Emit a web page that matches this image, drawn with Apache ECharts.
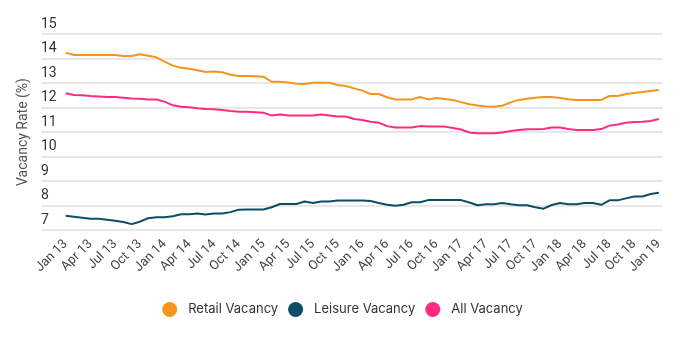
<!DOCTYPE html>
<html>
<head>
<meta charset="utf-8">
<script src="https://cdn.jsdelivr.net/npm/echarts@6/dist/echarts.min.js"></script>
<style>html,body{margin:0;padding:0;background:#fff}#c{width:685px;height:340px}</style>
</head>
<body>
<div id="c"></div>
<script>
const months = (function(){
  const m = ['Jan','Feb','Mar','Apr','May','Jun','Jul','Aug','Sep','Oct','Nov','Dec'];
  const out = [];
  for (let y = 13; y <= 19; y++) for (let i = 0; i < 12; i++) { if (y === 19 && i > 0) break; out.push(m[i] + ' ' + y); }
  return out;
})();
const tickLabels = months.filter((d, i) => i % 3 === 0);
const seriesNames = ['Retail Vacancy', 'Leisure Vacancy', 'All Vacancy'];
const retail = [14.24,14.14,14.14,14.14,14.14,14.14,14.14,14.10,14.10,14.17,14.11,14.05,13.87,13.71,13.62,13.58,13.52,13.45,13.47,13.44,13.34,13.29,13.29,13.28,13.26,13.05,13.05,13.02,12.97,12.96,13.01,13.01,13.01,12.92,12.88,12.78,12.69,12.55,12.55,12.42,12.33,12.33,12.33,12.43,12.33,12.39,12.35,12.31,12.22,12.13,12.08,12.04,12.03,12.07,12.21,12.31,12.36,12.40,12.43,12.43,12.39,12.34,12.31,12.31,12.31,12.31,12.47,12.47,12.55,12.59,12.63,12.67,12.71];
const leisure = [7.58,7.54,7.50,7.46,7.46,7.42,7.38,7.33,7.24,7.34,7.48,7.52,7.52,7.56,7.64,7.64,7.67,7.63,7.67,7.67,7.73,7.83,7.84,7.84,7.84,7.93,8.06,8.06,8.06,8.16,8.10,8.16,8.16,8.20,8.20,8.20,8.20,8.18,8.10,8.03,7.99,8.03,8.13,8.13,8.22,8.22,8.22,8.22,8.22,8.12,8.01,8.05,8.05,8.10,8.05,8.01,8.01,7.93,7.87,8.02,8.10,8.05,8.05,8.10,8.10,8.03,8.21,8.21,8.29,8.37,8.37,8.47,8.52];
const allVac = [12.58,12.51,12.50,12.47,12.45,12.43,12.43,12.40,12.37,12.36,12.33,12.33,12.24,12.09,12.03,12.01,11.97,11.94,11.93,11.90,11.86,11.83,11.83,11.81,11.79,11.67,11.71,11.67,11.67,11.67,11.67,11.71,11.67,11.63,11.63,11.53,11.49,11.42,11.38,11.24,11.18,11.18,11.18,11.24,11.22,11.22,11.22,11.16,11.10,10.98,10.95,10.95,10.95,10.98,11.04,11.08,11.11,11.11,11.12,11.18,11.18,11.12,11.08,11.08,11.08,11.12,11.26,11.31,11.38,11.41,11.42,11.45,11.53];
const colors = ['#F7941D', '#0C4E66', '#FF2A82'];

const toPairs = arr => arr.map((v, i) => [i, v]);
const chart = echarts.init(document.getElementById('c'), null, {renderer: 'canvas'});
chart.setOption({
  animation: false,
  textStyle: {fontFamily: 'Roboto'},
  grid: {left: 41, right: 22, top: 34, bottom: 110, containLabel: false},
  legend: {
    bottom: 18, left: 'center', icon: 'circle', itemWidth: 15, itemHeight: 15, itemGap: 10,
    textStyle: {fontSize: 13, color: '#333', fontFamily: 'Inter', padding: [0, 0, 0, 6]},
    data: seriesNames
  },
  xAxis: {
    type: 'value', min: -3, max: 72.5, interval: 3,
    axisLine: {show: false}, axisTick: {show: false}, splitLine: {show: false},
    axisLabel: {
      rotate: 45, fontSize: 13, color: '#444', margin: 12, showMaxLabel: false, showMinLabel: false,
      formatter: v => (v >= 0 && v % 3 === 0 && months[v]) ? months[v] : ''
    }
  },
  yAxis: {
    type: 'value', min: 7, max: 15, interval: 1,
    name: 'Vacancy Rate (%)', nameLocation: 'middle', nameGap: 8,
    nameTextStyle: {fontSize: 14, color: '#555'},
    axisLine: {show: false}, axisTick: {show: false},
    axisLabel: {inside: true, margin: 0, fontSize: 14, color: '#333', verticalAlign: 'bottom', padding: [0, 0, 3, 0]},
    splitLine: {lineStyle: {color: '#e0e0e0', width: 1.5}}
  },
  series: [retail, leisure, allVac].map((arr, k) => ({
    name: seriesNames[k], type: 'line', data: toPairs(arr), showSymbol: false, symbol: 'circle',
    lineStyle: {width: 2, color: colors[k]}, itemStyle: {color: colors[k]}
  }))
});
</script>
</body>
</html>
